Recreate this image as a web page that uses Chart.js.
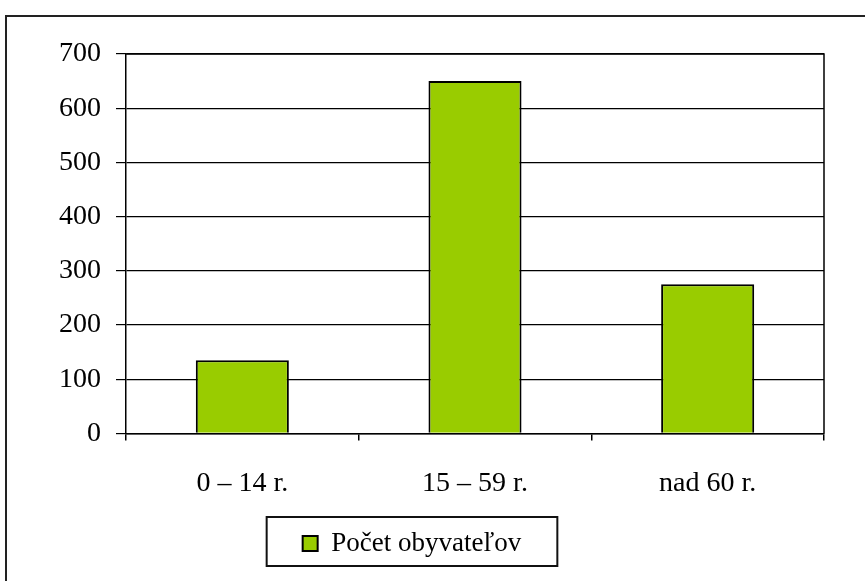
<!DOCTYPE html>
<html>
<head>
<meta charset="utf-8">
<script src="https://cdn.jsdelivr.net/npm/chart.js@4/dist/chart.umd.min.js"></script>
<style>
  html, body { margin: 0; padding: 0; background: #fff; }
  #wrap { position: relative; width: 865px; height: 581px; overflow: hidden; }
  #frame { position: absolute; left: 5px; top: 15px; width: 900px; height: 600px; border: 2px solid #222; box-sizing: border-box; }
  canvas { position: absolute; left: 0; top: 0; }
</style>
</head>
<body>
<div id="wrap">
  <div id="frame"></div>
  <canvas id="chart" width="865" height="581"></canvas>
</div>
<script>
const categories = ['0 – 14 r.', '15 – 59 r.', 'nad 60 r.'];
const population = [135, 650, 275];
const seriesName = 'Počet obyvateľov';
const yTicks = [0, 100, 200, 300, 400, 500, 600, 700];

const serif = 'Liberation Serif, Times New Roman, serif';

// plot area box + legend frame, like the old Excel chart
const framePlugin = {
  id: 'frames',
  afterDraw(chart) {
    const ctx = chart.ctx;
    const a = chart.chartArea;
    ctx.save();
    ctx.strokeStyle = '#000';
    ctx.lineWidth = 1.5;
    ctx.beginPath();
    ctx.moveTo(a.left, a.top);
    ctx.lineTo(a.right, a.top);
    ctx.lineTo(a.right, a.bottom);
    ctx.stroke();

    const hb = chart.legend.legendHitBoxes[0];
    if (hb) {
      ctx.lineWidth = 2;
      ctx.strokeStyle = '#111';
      ctx.strokeRect(hb.left - 36, hb.top - 13, hb.width + 72, hb.height + 22);
    }
    ctx.restore();
  }
};

new Chart(document.getElementById('chart'), {
  type: 'bar',
  data: {
    labels: categories,
    datasets: [{
      label: seriesName,
      data: population,
      backgroundColor: '#99cc00',
      borderColor: '#000',
      borderWidth: 2,
      barPercentage: 0.4,
      categoryPercentage: 1
    }]
  },
  options: {
    responsive: false,
    animation: false,
    layout: { padding: { left: 0, right: 41, top: 54, bottom: 14 } },
    scales: {
      y: {
        min: 0,
        max: 700,
        afterBuildTicks(scale) { scale.ticks = yTicks.map(v => ({ value: v })); },
        afterFit(scale) { scale.width = 126; },
        ticks: { color: '#000', padding: 15, font: { family: serif, size: 28 } },
        grid: { color: '#000', lineWidth: 1.2, tickLength: 10 },
        border: { color: '#000', width: 1.5 }
      },
      x: {
        offset: true,
        ticks: { color: '#000', padding: 26, font: { family: serif, size: 28 } },
        grid: { offset: true, drawOnChartArea: false, color: '#000', lineWidth: 1.5, tickLength: 7 },
        border: { color: '#000', width: 1.5 }
      }
    },
    plugins: {
      tooltip: { enabled: false },
      legend: {
        position: 'bottom',
        labels: {
          color: '#000',
          font: { family: serif, size: 27 },
          boxWidth: 15,
          boxHeight: 15,
          padding: 4,
          useBorderRadius: false
        }
      }
    }
  },
  plugins: [framePlugin]
});
</script>
</body>
</html>
